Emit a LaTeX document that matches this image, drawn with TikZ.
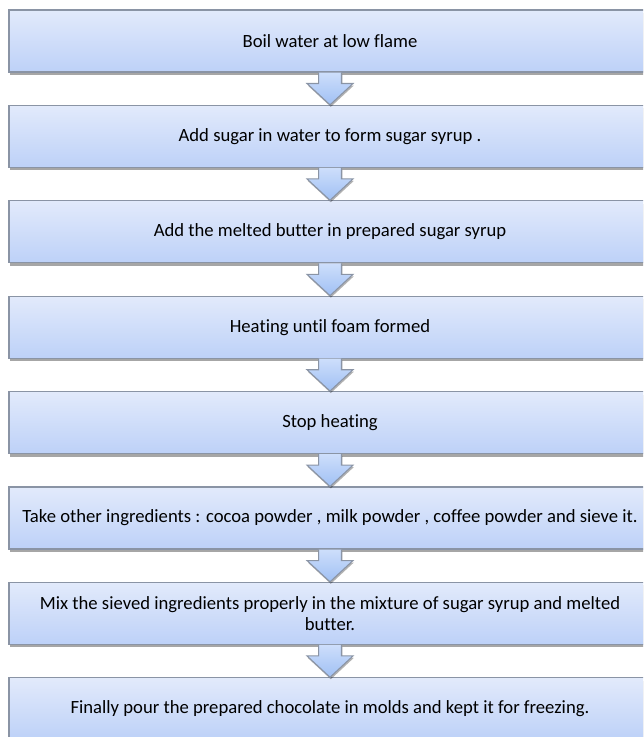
\documentclass[tikz,border=0pt]{standalone}
\usepackage{fontspec}
\setmainfont{Carlito}[Ligatures=NoCommon]
\usetikzlibrary{positioning, shadows, calc}
\definecolor{boxtop}{RGB}{226,234,251}
\definecolor{boxbottom}{RGB}{189,209,248}
\definecolor{boxline}{RGB}{138,148,165}
\definecolor{arrowtop}{RGB}{205,222,251}
\definecolor{arrowbottom}{RGB}{160,192,244}
\tikzset{
    stepbox/.style={rectangle, draw=boxline, thick, top color=boxtop, bottom color=boxbottom,
        minimum width=481.5pt, minimum height=46.5pt, align=center, text=black,
        inner sep=1pt, font=\fontsize{14}{15.5}\selectfont,
        drop shadow={shadow xshift=0.8pt, shadow yshift=-2.2pt, fill=black, opacity=0.35}}, % the boxes
    node distance=71.55pt, % centre to centre
    blockarrow/.style={draw=boxline, thick, top color=arrowtop, bottom color=arrowbottom,
        drop shadow={shadow xshift=0.6pt, shadow yshift=-1.5pt, fill=black, opacity=0.3},
        to path={($(\tikztostart.south)+(-8.6pt,0)$) -- ++(0,-8.25pt) -- ++(-8.65pt,0)
            -- (\tikztotarget.north)
            -- ($(\tikztostart.south)+(17.25pt,-8.25pt)$) -- ++(-8.65pt,0) -- ++(0,8.25pt)}},
}
\begin{document}
\begin{tikzpicture}
    \useasboundingbox (0,0) rectangle (482.25pt,-552.75pt);
    \clip (0,0) rectangle (482.25pt,-552.75pt);
    \node[stepbox] (s1) at (247.5pt,-30.75pt) {Boil water at low flame};
    \node[stepbox, below of=s1] (s2) {Add sugar in water to form sugar syrup .};
    \node[stepbox, below of=s2] (s3) {Add the melted butter in prepared sugar syrup};
    \node[stepbox, below of=s3] (s4) {Heating until foam formed};
    \node[stepbox, below of=s4] (s5) {Stop heating};
    \node[stepbox, below of=s5] (s6) {Take other ingredients : cocoa powder , milk powder , coffee powder and sieve it.};
    \node[stepbox, below of=s6] (s7) {Mix the sieved ingredients properly in the mixture of sugar syrup and melted\\ butter.};
    \node[stepbox, below of=s7] (s8) {Finally pour the prepared chocolate in molds and kept it for freezing.};
    \draw
    (s1) edge[blockarrow] (s2)
    (s2) edge[blockarrow] (s3)
    (s3) edge[blockarrow] (s4)
    (s4) edge[blockarrow] (s5)
    (s5) edge[blockarrow] (s6)
    (s6) edge[blockarrow] (s7)
    (s7) edge[blockarrow] (s8);
\end{tikzpicture}
\end{document}
